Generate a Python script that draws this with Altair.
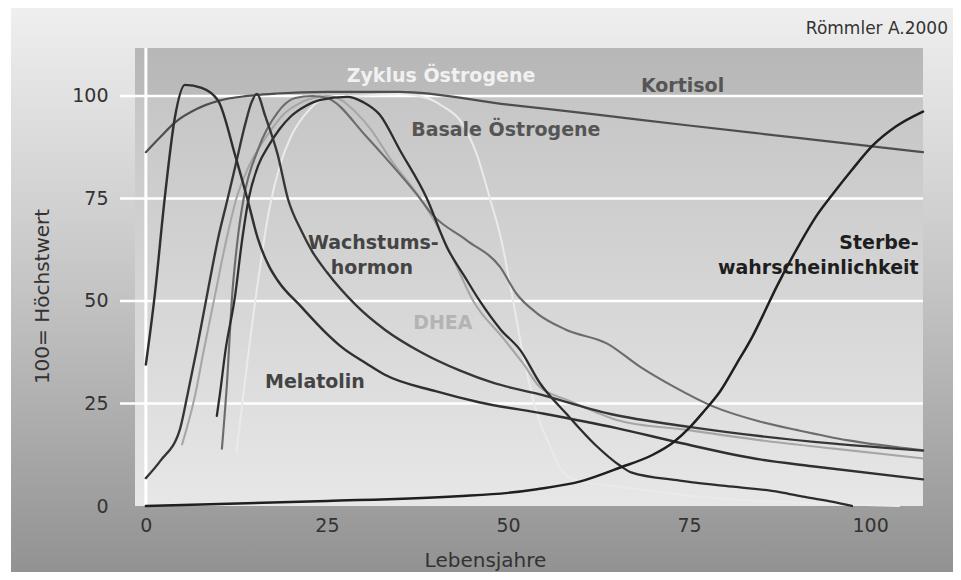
import altair as alt
import pandas as pd

# ---------------- data ----------------
kortisol_age = [0, 2, 4, 7, 10, 14, 18, 25, 35, 50, 62, 75, 90, 107.3]
kortisol_val = [86.3, 90, 93.5, 96.8, 98.8, 100, 100.6, 101, 101, 97.9, 95.5, 92.8, 89.8, 86.3]

sterbe_age = [0, 25, 43, 50, 54, 60, 65.5, 70, 72.8, 75, 77, 79.3, 81.5, 83.8, 85.2, 87.1, 90.3, 92.5, 94.9, 97.5, 100.4, 103.5, 107.3]
sterbe_val = [0, 1.2, 2.4, 3.2, 4.1, 6, 9.4, 12.5, 15.5, 19, 23, 28, 34.5, 41.5, 46.5, 53.5, 64, 70.5, 76.2, 82, 88, 92.5, 96.2]

melatonin_age = [0, 1.2, 2.6, 4, 5.4, 7.7, 10, 12.3, 14, 15.5, 17, 18.2, 21.5, 25, 27, 30.5, 33, 40, 46, 55, 65, 74, 85, 92, 107.3]
melatonin_val = [34.5, 51, 75, 94.7, 102.7, 102, 98.8, 85.7, 75, 65, 58.5, 55, 48.5, 42, 38.8, 34.7, 32, 28, 25.3, 22.5, 19, 15.3, 11.3, 9.7, 6.5]

wachstum_age = [0, 2, 4.7, 5.7, 7, 8.4, 10, 11.3, 12.5, 13.7, 14.6, 15.3, 16.5, 18.2, 19.6, 21.5, 23, 25, 29, 33, 38, 43.4, 48, 54, 64, 75, 85, 95, 107.3]
wachstum_val = [6.8, 11, 18.7, 26.7, 38, 51, 65.5, 75, 84, 93, 98.5, 100.5, 95, 85.7, 75, 67, 62, 57, 49, 43, 37.5, 33, 30, 27.4, 22.5, 19.3, 17, 15.2, 13.5]

basale_age = [9.8, 10.2, 11, 12.3, 13.3, 14.2, 15.5, 17, 18.5, 20, 22, 24, 27.8, 30, 32.3, 35.1, 38.8, 41.6, 44, 46.1, 49, 51.7, 54.4, 58, 62, 65.5, 67, 73.7, 80, 87.5, 91, 94.9, 97.5]
basale_val = [22, 27, 38, 51, 65, 75, 83, 88, 92, 95, 97.5, 99, 99.8, 98.5, 95.4, 86.7, 75, 63, 56, 50, 43, 38, 30, 22.6, 15, 9.8, 8.2, 6.2, 4.9, 3.4, 2.2, 1.0, 0]

dhea_age = [5, 6.8, 8, 9.5, 11, 12.5, 14, 15.5, 17, 19, 21, 23, 25, 27, 29, 31, 34, 37.5, 40, 42.5, 45.2, 49.3, 52.1, 54.4, 58, 62, 65, 75, 85, 95, 107.3]
dhea_val = [15, 27, 38, 51, 64, 75, 82, 87, 91, 95.5, 98, 99.5, 100, 99, 96, 92, 84, 76, 69, 60, 50, 41, 34.7, 29, 26, 23, 21, 18.5, 16, 14, 11.6]

unbenannt_age = [10.5, 11.2, 11.9, 12.7, 13.5, 15.5, 18.2, 20.6, 23, 25, 30.5, 32.7, 37.4, 39.6, 44.3, 48.9, 51.2, 54, 58, 63.7, 68.2, 73, 78.3, 85, 90, 97, 107.3]
unbenannt_val = [14, 30, 51, 65.5, 75, 87, 96, 99.5, 100, 99.5, 90, 85.7, 76, 71, 64.8, 58.3, 51.7, 47, 43, 39.6, 34, 29, 24.3, 20.5, 18.5, 16, 13.6]

zyklus_age = [12.5, 14, 15.5, 17, 18.5, 20, 22, 24.3, 29, 35, 38.8, 41, 43.4, 45.7, 47.5, 49, 50.5, 52.3, 54, 55.8, 57.5, 60, 66, 75, 85, 95, 104]
zyklus_val = [13, 35, 55, 72, 83, 90, 95.5, 99, 100, 100.5, 99.5, 97.5, 94, 85.7, 75, 65.5, 52, 35, 22.6, 14.6, 8.5, 6, 4.6, 2.5, 1.2, 0.5, 0]

grid_values = [25, 50, 75, 100]
x_ticks = [0, 25, 50, 75, 100]
y_ticks = [0, 25, 50, 75, 100]

center_label_text = ["Zyklus Östrogene", "Kortisol", "Basale Östrogene", "Wachstums-", "hormon", "DHEA", "Melatolin"]
center_label_age = [40.75, 74.1, 49.7, 31.4, 31.2, 41.0, 23.35]
center_label_val = [104.9, 102.5, 91.6, 64.1, 58.0, 44.7, 30.2]

right_label_text = ["Sterbe-", "wahrscheinlichkeit"]
right_label_age = [106.7, 106.7]
right_label_val = [64.1, 58.0]

source_text = ["Römmler A.2000"]

# ---------------- build tables ----------------
series = [
    ("Zyklus Östrogene", zyklus_age, zyklus_val),
    ("DHEA", dhea_age, dhea_val),
    ("Unbenannt", unbenannt_age, unbenannt_val),
    ("Kortisol", kortisol_age, kortisol_val),
    ("Basale Östrogene", basale_age, basale_val),
    ("Wachstumshormon", wachstum_age, wachstum_val),
    ("Melatonin", melatonin_age, melatonin_val),
    ("Sterbewahrscheinlichkeit", sterbe_age, sterbe_val),
]
rows = []
for name, ages, vals in series:
    for a, v in zip(ages, vals):
        rows.append({"serie": name, "alter": a, "wert": v})
df = pd.DataFrame(rows)
names = [s[0] for s in series]
line_colors = ["#eaeaea", "#a6a6a6", "#6c6c6c", "#4e4e4e", "#2c2c2c", "#363636", "#2f2f2f", "#1f1f1f"]
line_widths = [2, 2.5, 2.5, 3, 3, 3, 3, 2.2]

FONT = "DejaVu Sans"
W, H = 788, 458
PAD = {"left": 127, "top": 40, "right": 30, "bottom": 66}
X_DOM = [-1.5, 107.3]
Y_DOM = [0, 111.7]

xs = alt.Scale(domain=X_DOM, nice=False, zero=False)
ys = alt.Scale(domain=Y_DOM, nice=False, zero=False)

one = pd.DataFrame({"d": [0]})

outer_bg = alt.Chart(one).mark_rect(
    fill=alt.Gradient(
        gradient="linear",
        stops=[alt.GradientStop(color="#efefef", offset=0),
               alt.GradientStop(color="#c4c4c4", offset=0.5),
               alt.GradientStop(color="#929292", offset=1)],
        x1=0, x2=0, y1=0, y2=1,
    )
).encode(x=alt.value(-124), x2=alt.value(W + PAD["right"]),
         y=alt.value(-PAD["top"]), y2=alt.value(H + PAD["bottom"]))

plot_bg = alt.Chart(one).mark_rect(
    fill=alt.Gradient(
        gradient="linear",
        stops=[alt.GradientStop(color="#b7b7b7", offset=0),
               alt.GradientStop(color="#bbbbbb", offset=0.103),
               alt.GradientStop(color="#c6c6c6", offset=0.106),
               alt.GradientStop(color="#d4d4d4", offset=0.5),
               alt.GradientStop(color="#e7e7e7", offset=1)],
        x1=0, x2=0, y1=0, y2=1,
    )
).encode(x=alt.value(0), x2=alt.value(W), y=alt.value(0), y2=alt.value(H))

grid = alt.Chart(pd.DataFrame({"wert": grid_values})).mark_rule(
    color="white", strokeWidth=2.5
).encode(y=alt.Y("wert:Q", scale=ys), x=alt.value(-15), x2=alt.value(W))

zero_line = alt.Chart(pd.DataFrame({"alter": [0]})).mark_rule(
    color="white", strokeWidth=3
).encode(x=alt.X("alter:Q", scale=xs))

lines = alt.Chart(df).mark_line(interpolate="monotone", strokeCap="round").encode(
    x=alt.X("alter:Q", scale=xs,
            axis=alt.Axis(values=x_ticks, ticks=False, tickSize=0, domain=False, grid=False,
                          labelFont=FONT, labelFontSize=19, labelColor="#333333", labelPadding=10,
                          title="Lebensjahre", titleFont=FONT, titleFontSize=20,
                          titleFontWeight="normal", titleColor="#333333",
                          titleX=350, titleY=60, titleAlign="center", titleBaseline="alphabetic",
                          zindex=1)),
    y=alt.Y("wert:Q", scale=ys,
            axis=alt.Axis(values=y_ticks, ticks=False, tickSize=0, domain=False, grid=False,
                          labelFont=FONT, labelFontSize=19, labelColor="#333333", labelPadding=27,
                          title="100= Höchstwert", titleFont=FONT, titleFontSize=20,
                          titleFontWeight="normal", titleColor="#333333",
                          titleX=-87, titleY=248, titleAngle=270, titleAlign="center",
                          titleBaseline="alphabetic", zindex=1)),
    color=alt.Color("serie:N", scale=alt.Scale(domain=names, range=line_colors), legend=None),
    strokeWidth=alt.StrokeWidth("serie:N", scale=alt.Scale(domain=names, range=line_widths), legend=None),
    detail="serie:N",
)

center_df = pd.DataFrame({"text": center_label_text, "alter": center_label_age, "wert": center_label_val})
center_colors = ["#f1f1f1", "#555555", "#555555", "#444444", "#444444", "#b3b3b3", "#444444"]
center_labels = alt.Chart(center_df).mark_text(
    font=FONT, fontSize=19, fontWeight="bold", align="center", baseline="middle"
).encode(
    x=alt.X("alter:Q", scale=xs),
    y=alt.Y("wert:Q", scale=ys),
    text="text:N",
    color=alt.Color("text:N", scale=alt.Scale(domain=center_label_text, range=center_colors), legend=None),
)

right_df = pd.DataFrame({"text": right_label_text, "alter": right_label_age, "wert": right_label_val})
right_labels = alt.Chart(right_df).mark_text(
    font=FONT, fontSize=19, fontWeight="bold", align="right", baseline="middle", color="#1e1e1e"
).encode(
    x=alt.X("alter:Q", scale=xs),
    y=alt.Y("wert:Q", scale=ys),
    text="text:N",
)

source = alt.Chart(pd.DataFrame({"text": source_text})).mark_text(
    font=FONT, fontSize=17, align="right", baseline="alphabetic", color="#333333"
).encode(x=alt.value(W + 25), y=alt.value(-14), text="text:N")

chart = alt.layer(
    outer_bg, plot_bg, grid, zero_line, lines, center_labels, right_labels, source
).resolve_scale(color="independent").properties(
    width=W, height=H,
    autosize=alt.AutoSizeParams(type="none"),
    padding=PAD,
).configure_view(stroke=None).configure(background="white")

chart.save("out.html", embed_options={"renderer": "svg", "actions": False})
